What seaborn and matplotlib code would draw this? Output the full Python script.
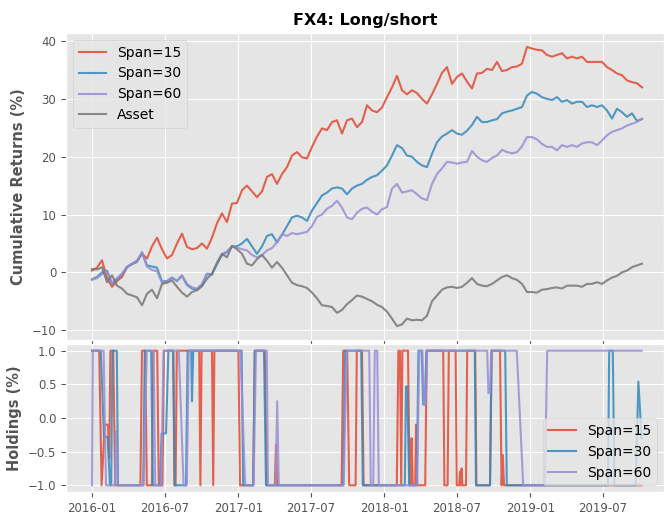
import matplotlib
matplotlib.use("Agg")
import matplotlib.pyplot as plt
import matplotlib.dates as mdates
import pandas as pd
import seaborn as sns

start = "2016-01-01"

# cumulative returns (%), one value every 12.5 days
ret_span15 = [
    0.3, 0.8, 2.1, -1.0, -2.5, -1.5, -0.8, 0.9, 1.5, 2.0,
    3.2, 2.4, 4.5, 6.0, 4.0, 2.4, 3.0, 5.0, 6.7, 4.4,
    4.0, 4.2, 5.0, 4.1, 6.0, 8.5, 10.2, 8.7, 11.9, 12.0,
    14.2, 15.0, 14.0, 13.0, 14.0, 16.5, 17.0, 15.3, 17.0, 18.2,
    20.2, 20.8, 19.9, 19.7, 21.7, 23.5, 24.9, 24.6, 26.0, 26.3,
    24.0, 26.3, 26.6, 25.1, 26.0, 28.9, 28.0, 27.7, 28.5, 30.3,
    32.0, 34.0, 31.5, 30.8, 31.5, 31.0, 30.0, 29.2, 30.8, 32.6,
    34.5, 35.5, 32.6, 33.8, 34.4, 33.0, 31.8, 34.4, 34.5, 35.2,
    35.0, 36.4, 34.8, 35.0, 35.5, 35.6, 36.1, 39.0, 38.7, 38.5,
    38.4, 37.6, 37.3, 37.6, 37.9, 37.0, 37.3, 37.0, 37.3, 36.4,
    36.4, 36.4, 36.4, 35.5, 35.0, 34.4, 34.1, 33.2, 32.9, 32.7,
    32.0]
ret_span30 = [
    -1.2, -0.8, 0.0, 0.3, -2.0, -1.2, -0.3, 0.9, 1.4, 1.8,
    3.4, 1.2, 1.0, 0.8, -1.6, -1.5, -0.9, -1.5, -0.6, -2.2,
    -2.8, -3.0, -2.2, -0.3, -0.4, 1.5, 3.0, 3.5, 4.5, 4.5,
    5.0, 5.8, 4.5, 3.2, 4.5, 6.3, 6.6, 5.2, 6.5, 8.0,
    9.5, 9.8, 9.5, 8.9, 10.7, 12.0, 13.3, 13.8, 14.5, 14.7,
    14.5, 13.5, 14.5, 15.0, 15.3, 16.0, 16.5, 16.8, 17.6, 18.5,
    20.2, 22.0, 21.5, 20.2, 20.0, 19.1, 18.5, 18.2, 20.5, 22.5,
    23.5, 24.0, 24.6, 24.0, 23.8, 24.5, 25.5, 26.9, 26.0, 26.0,
    26.3, 26.5, 27.5, 27.8, 28.0, 28.3, 28.6, 30.6, 31.2, 30.9,
    30.3, 30.0, 29.8, 30.3, 29.5, 29.8, 29.2, 29.5, 29.5, 28.6,
    28.9, 28.6, 28.9, 28.0, 26.6, 28.3, 27.7, 26.9, 27.5, 26.2,
    26.5]
ret_span60 = [
    -1.3, -1.0, -0.3, 0.2, -1.8, -1.0, -0.2, 1.0, 1.5, 2.0,
    3.5, 1.0, 0.4, 0.2, -1.8, -1.6, -1.0, -1.4, -0.5, -2.0,
    -2.6, -2.8, -2.0, -0.2, -0.3, 1.7, 3.2, 3.6, 4.5, 4.3,
    4.0, 3.8, 3.0, 2.6, 3.0, 3.8, 4.2, 5.2, 6.6, 6.3,
    6.8, 6.6, 6.8, 7.0, 8.0, 9.6, 10.0, 11.0, 11.5, 12.4,
    11.2, 9.5, 9.2, 10.3, 11.0, 11.2, 10.5, 10.0, 10.9, 11.3,
    14.5, 15.3, 13.8, 14.0, 14.2, 13.5, 12.8, 12.5, 15.3, 17.0,
    18.0, 19.1, 19.0, 18.8, 19.0, 19.1, 21.0, 20.0, 19.4, 19.1,
    19.8, 20.2, 21.2, 20.8, 20.6, 20.8, 21.8, 23.4, 23.4, 23.0,
    22.2, 21.7, 21.7, 21.1, 22.0, 21.7, 22.0, 21.7, 22.3, 22.5,
    22.5, 22.0, 22.8, 23.7, 24.3, 24.6, 24.9, 25.4, 25.7, 26.0,
    26.6]
ret_asset = [
    0.6, 0.5, 0.9, -1.7, -0.5, -2.3, -2.8, -3.7, -4.0, -4.3,
    -5.7, -3.7, -3.0, -4.5, -2.0, -1.8, -1.4, -2.5, -3.5, -4.2,
    -3.4, -3.1, -2.4, -1.1, -0.2, 1.5, 3.2, 2.6, 4.6, 4.0,
    3.2, 1.5, 1.2, 2.3, 3.0, 2.0, 0.8, 1.8, 0.8, -0.5,
    -1.8, -2.2, -2.4, -2.7, -3.5, -4.5, -5.7, -5.8, -6.0, -7.0,
    -6.5, -5.5, -4.8, -4.0, -4.2, -4.6, -5.0, -5.6, -6.0, -6.8,
    -8.0, -9.3, -9.0, -8.0, -8.3, -8.2, -8.3, -7.5, -5.0, -4.0,
    -3.0, -2.6, -2.5, -2.7, -2.5, -1.8, -1.0, -2.0, -2.3, -2.4,
    -2.0, -1.4, -0.8, -0.5, -1.0, -1.3, -2.0, -3.4, -3.4, -3.5,
    -3.0, -2.9, -2.7, -2.6, -2.8, -2.3, -2.3, -2.3, -2.5, -2.0,
    -2.0, -1.7, -2.0, -1.4, -0.9, -0.6, 0.0, 0.3, 0.9, 1.2,
    1.5]

# holdings: day offset from start and the position on that day
hold15_days = [0, 18, 24, 32, 40, 43, 46, 53, 58, 121,
               125, 133, 137, 150, 153, 163, 167, 176, 180, 203,
               206, 209, 212, 268, 271, 274, 300, 303, 306, 366,
               370, 403, 407, 432, 437, 457, 460, 463, 624, 628,
               638, 643, 659, 662, 675, 679, 762, 766, 770, 773,
               776, 790, 794, 797, 799, 802, 808, 810, 813, 833,
               837, 878, 881, 889, 892, 909, 912, 918, 920, 922,
               924, 926, 935, 938, 958, 961, 995, 999, 1020, 1024,
               1027, 1030, 1374]
hold15_vals = [1, 1, -1, -0.1, -0.1, -0.6, 1, 1, -1, -1,
               1, 1, -1, -1, 1, 1, -1, -1, 1, 1,
               -1, -1, 1, 1, -1, 1, 1, -1, 1, 1,
               -1, -1, 1, 1, -1, -1, -0.4, -1, -1, 1,
               1, -1, -1, 1, 1, -1, -1, 1, 1, -1,
               1, 1, -1, -1, -0.3, -1, -1, -0.1, -1, -1,
               1, 1, -1, -1, 1, 1, -1, -1, -0.8, -1,
               -0.75, -1, -1, 1, 1, -1, -1, 1, 1, -1,
               -0.55, -1, -1]
hold30_days = [0, 22, 30, 39, 45, 48, 51, 62, 65, 128,
               132, 148, 152, 170, 174, 185, 191, 203, 207, 235,
               239, 248, 250, 253, 374, 378, 403, 407, 430, 435,
               628, 633, 673, 677, 782, 785, 788, 793, 812, 816,
               824, 828, 832, 836, 957, 960, 995, 999, 1033, 1037,
               1290, 1293, 1302, 1306, 1359, 1366, 1374]
hold30_vals = [1, 1, -0.28, -0.28, -1, -1, 1, 1, -1, -1,
               1, 1, -1, -1, -0.23, -0.23, 1, 1, -1, -1,
               1, 1, 0.25, 1, 1, -1, -1, 1, 1, -1,
               -1, 1, 1, -1, -1, 0.47, 0.47, -1, -1, 1,
               1, 0.2, 0.2, 1, 1, -1, -1, 1, 1, -1,
               -1, 1, 1, -1, -1, 0.54, -0.3]
hold60_days = [0, 2, 29, 35, 57, 60, 64, 129, 137, 154,
               158, 173, 179, 217, 229, 237, 242, 371, 383, 404,
               410, 437, 440, 459, 463, 467, 629, 637, 693, 697,
               703, 707, 713, 717, 813, 818, 826, 830, 834, 838,
               988, 991, 995, 998, 1062, 1078, 1132, 1138, 1374]
hold60_vals = [-1, 1, 1, -1, -1, -0.2, -1, -1, 1, 1,
               -1, -1, 1, 1, -1, -1, 1, 1, -1, -1,
               1, 1, -1, -1, 0.25, -1, -1, 1, 1, -1,
               -1, 1, 1, -1, -1, 1, 1, 0.2, 0.2, 1,
               1, 0.37, 0.37, 1, 1, -1, -1, 1, 1]

plt.style.use("ggplot")
palette = {"Span=15": "#E24A33", "Span=30": "#348ABD",
           "Span=60": "#988ED5", "Asset": "#777777"}

# long tables for seaborn
ret_dates = pd.date_range(start, periods=len(ret_span15), freq="300h")
df_ret = pd.DataFrame({"date": ret_dates, "Span=15": ret_span15,
                       "Span=30": ret_span30, "Span=60": ret_span60,
                       "Asset": ret_asset})
df_ret = df_ret.melt("date", var_name="series", value_name="value")

t0 = pd.Timestamp(start)
parts = []
for name, days, vals in [("Span=15", hold15_days, hold15_vals),
                         ("Span=30", hold30_days, hold30_vals),
                         ("Span=60", hold60_days, hold60_vals)]:
    parts.append(pd.DataFrame({"date": t0 + pd.to_timedelta(days, unit="D"),
                               "series": name, "value": vals}))
df_hold = pd.concat(parts, ignore_index=True)

fig = plt.figure(figsize=(6.64, 5.14), dpi=100)
ax1 = fig.add_axes([66 / 664, 1 - 340 / 514, 598 / 664, 307 / 514])
ax2 = fig.add_axes([66 / 664, 1 - 492 / 514, 598 / 664, 148 / 514], sharex=ax1)

sns.lineplot(data=df_ret, x="date", y="value", hue="series", palette=palette,
             estimator=None, lw=1.5, alpha=0.85, ax=ax1)
sns.lineplot(data=df_hold, x="date", y="value", hue="series", palette=palette,
             estimator=None, lw=1.5, alpha=0.85, ax=ax2)

sns.move_legend(ax1, "upper left", title=None, fontsize=10)
sns.move_legend(ax2, "lower right", title=None, fontsize=10)

ax1.set_title("FX4: Long/short", fontsize=11.5, fontweight="bold")
ax1.set_ylabel("Cumulative Returns (%)", fontsize=10.5, fontweight="bold")
ax2.set_ylabel("Holdings (%)", fontsize=10.5, fontweight="bold")
ax1.set_xlabel("")
ax2.set_xlabel("")

ax1.set_ylim(-11.7, 41.4)
ax2.set_ylim(-1.1, 1.1)
ax2.set_yticks([-1.0, -0.5, 0.0, 0.5, 1.0])
ax1.set_xlim(t0 - pd.Timedelta(days=65), t0 + pd.Timedelta(days=1430))
ax2.xaxis.set_major_locator(mdates.MonthLocator(bymonth=[1, 7]))
ax2.xaxis.set_major_formatter(mdates.DateFormatter("%Y-%m"))
plt.setp(ax1.get_xticklabels(), visible=False)
for ax in (ax1, ax2):
    ax.tick_params(labelsize=8.5)

fig.savefig("out.png", dpi=100)
plt.close()
